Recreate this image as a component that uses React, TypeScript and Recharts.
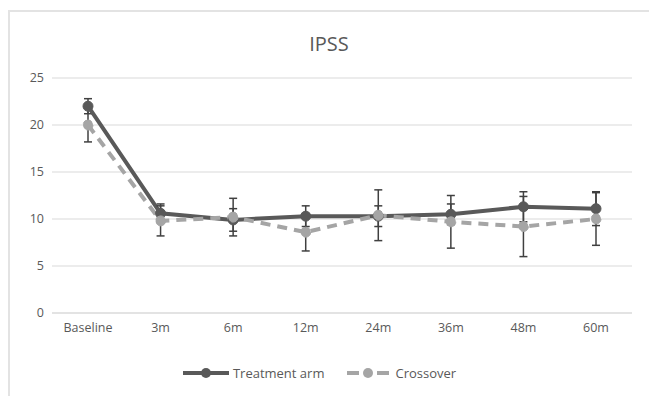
import React from 'react';
import { CartesianGrid, ErrorBar, Legend, Line, LineChart, XAxis, YAxis } from 'recharts';

const timepoints = ['Baseline', '3m', '6m', '12m', '24m', '36m', '48m', '60m'];
const treatment = [22.0, 10.6, 9.9, 10.3, 10.3, 10.5, 11.3, 11.1];
const treatmentErr = [0.8, 1.0, 1.2, 1.1, 1.1, 1.1, 1.6, 1.8];
const crossover = [20.0, 9.8, 10.2, 8.6, 10.4, 9.7, 9.2, 10.0];
const crossoverErr = [1.8, 1.6, 2.0, 2.0, 2.7, 2.8, 3.2, 2.8];
const yTicks = [0, 5, 10, 15, 20, 25];

const DARK = '#595959';
const LIGHT = '#a5a5a5';
const FONT = '"Open Sans", sans-serif';

const data = timepoints.map((t, i) => ({
  t,
  treatment: treatment[i],
  tErr: treatmentErr[i],
  crossover: crossover[i],
  cErr: crossoverErr[i],
}));

function LegendContent() {
  return (
    <div style={{ display: 'flex', justifyContent: 'center', paddingLeft: 6 }}>
      <div style={{ display: 'flex', alignItems: 'center', marginRight: 22 }}>
        <svg width={48} height={14}>
          <line x1={1} y1={7} x2={47} y2={7} stroke={DARK} strokeWidth={4} />
          <circle cx={24} cy={7} r={5} fill={DARK} />
        </svg>
        <span style={{ marginLeft: 3, fontSize: 13, color: DARK, fontFamily: FONT }}>Treatment arm</span>
      </div>
      <div style={{ display: 'flex', alignItems: 'center' }}>
        <svg width={44} height={14}>
          <line x1={1} y1={7} x2={13} y2={7} stroke={LIGHT} strokeWidth={4} />
          <line x1={31} y1={7} x2={43} y2={7} stroke={LIGHT} strokeWidth={4} />
          <circle cx={22} cy={7} r={5} fill={LIGHT} />
        </svg>
        <span style={{ marginLeft: 5, fontSize: 13, color: DARK, fontFamily: FONT }}>Crossover</span>
      </div>
    </div>
  );
}

export default function App() {
  return (
    <div style={{ position: 'absolute', left: 0, top: 0, width: 649, height: 396, background: '#fff' }}>
      <div
        style={{
          position: 'absolute',
          left: 8,
          top: 10,
          right: 0,
          bottom: 0,
          borderLeft: '2px solid #e3e3e3',
          borderTop: '2px solid #e3e3e3',
        }}
      />
      <div
        style={{
          position: 'absolute',
          top: 30,
          left: 0,
          width: 658,
          textAlign: 'center',
          fontFamily: FONT,
          fontSize: 20,
          color: DARK,
        }}
      >
        IPSS
      </div>
      <div style={{ position: 'absolute', left: 0, top: 0 }}>
        <LineChart
          width={649}
          height={396}
          data={data}
          margin={{ top: 78, right: 17, bottom: 10, left: 0 }}
        >
          <CartesianGrid vertical={false} stroke="#d9d9d9" strokeWidth={1.2} />
          <XAxis
            dataKey="t"
            height={51}
            tickLine={false}
            axisLine={{ stroke: '#d9d9d9', strokeWidth: 1.2 }}
            tick={{ fontSize: 12.5, fill: DARK, fontFamily: FONT, dy: 2 }}
            padding={{ left: 36, right: 36 }}
          />
          <YAxis
            width={52}
            domain={[0, 25]}
            ticks={yTicks}
            tickLine={false}
            axisLine={false}
            tick={{ fontSize: 12.5, fill: DARK, fontFamily: FONT }}
          />
          <Legend verticalAlign="bottom" height={22} content={<LegendContent />} />
          <Line
            dataKey="treatment"
            stroke={DARK}
            strokeWidth={4}
            dot={{ r: 5, fill: DARK, stroke: DARK, strokeWidth: 1 }}
            activeDot={false}
            isAnimationActive={false}
          >
            <ErrorBar dataKey="tErr" width={4} stroke="#404040" strokeWidth={1.5} direction="y" />
          </Line>
          <Line
            dataKey="crossover"
            stroke={LIGHT}
            strokeWidth={4}
            strokeDasharray="10 7"
            dot={{ r: 5, fill: LIGHT, stroke: LIGHT, strokeWidth: 1 }}
            activeDot={false}
            isAnimationActive={false}
          >
            <ErrorBar dataKey="cErr" width={4} stroke="#404040" strokeWidth={1.5} direction="y" />
          </Line>
        </LineChart>
      </div>
    </div>
  );
}
